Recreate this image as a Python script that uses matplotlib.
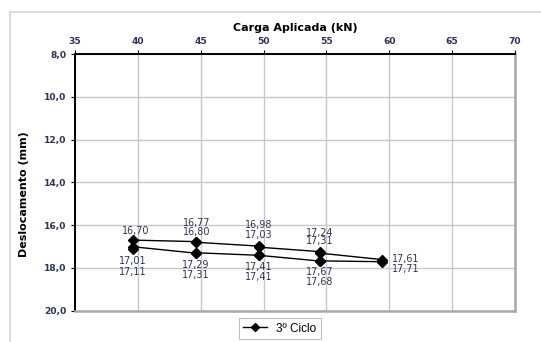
import numpy as np
import matplotlib.pyplot as plt
from matplotlib.lines import Line2D

# 3o ciclo de carga: duas leituras por patamar (carregamento e descarregamento)
carga = [39.6, 44.6, 44.6, 49.6, 49.6, 54.5, 54.5, 59.4, 59.4,
         54.5, 54.5, 49.6, 49.6, 44.6, 44.6, 39.6, 39.6]
desloc = [16.70, 16.77, 16.80, 16.98, 17.03, 17.24, 17.31, 17.61, 17.71,
          17.67, 17.68, 17.41, 17.41, 17.29, 17.31, 17.01, 17.11]

x_ticks = [35, 40, 45, 50, 55, 60, 65, 70]
y_ticks = [8, 10, 12, 14, 16, 18, 20]

# deslocamento dos rotulos em pixels (dx, dy), dy positivo para baixo
off_rot = [(3, -9), (1, -19), (1, -10), (0, -21), (0, -12), (0, -19), (0, -12),
           (10, -1), (10, 7), (0, 11), (0, 21), (0, 12), (0, 22), (0, 12), (0, 22),
           (0, 14), (0, 23)]

cor_txt = '#2e3358'

fig = plt.figure(figsize=(5.41, 3.42), dpi=100)
ax = fig.add_axes([75/541, 1 - 310.7/342, 440/541, (310.7 - 54)/342])

ax.plot(carga, desloc, color='black', lw=1.0, marker='D', ms=4.6,
        markerfacecolor='black', markeredgecolor='black')

for xi, yi, (dx, dy) in zip(carga, desloc, off_rot):
    txt = ('%.2f' % yi).replace('.', ',')
    ha = 'left' if dx >= 10 else 'center'
    ax.annotate(txt, (xi, yi), xytext=(dx, -dy), textcoords='offset pixels',
                ha=ha, va='center', fontsize=6.9, color=cor_txt)

ax.set_xlim(35, 70)
ax.set_ylim(20, 8)
ax.set_xticks(x_ticks)
ax.set_yticks(y_ticks)
ax.set_yticklabels([('%.1f' % v).replace('.', ',') for v in y_ticks])
ax.xaxis.tick_top()
ax.xaxis.set_label_position('top')
ax.tick_params(axis='both', labelsize=6.6, labelcolor=cor_txt, length=3,
               width=0.8, direction='out', pad=3)
for lab in ax.get_xticklabels() + ax.get_yticklabels():
    lab.set_fontweight('bold')

ax.grid(True, color='#c8c8c8', lw=1.0)
ax.set_axisbelow(True)

ax.spines['top'].set_color('black')
ax.spines['left'].set_color('black')
ax.spines['top'].set_linewidth(1.4)
ax.spines['left'].set_linewidth(1.4)
ax.spines['right'].set_color('#a8a8a8')
ax.spines['bottom'].set_color('#a8a8a8')
ax.spines['right'].set_linewidth(1.8)
ax.spines['bottom'].set_linewidth(1.8)

ax.set_xlabel('Carga Aplicada (kN)', fontsize=8, fontweight='bold', labelpad=4)
ax.set_ylabel('Deslocamento (mm)', fontsize=8, fontweight='bold')
ax.yaxis.set_label_coords(-0.104, 0.455)

# moldura externa do grafico
fig.add_artist(Line2D([10/541, 10/541], [0, 1 - 12/342], color='#d4d4d4', lw=1.2))
fig.add_artist(Line2D([10/541, 1], [1 - 12/342, 1 - 12/342], color='#d4d4d4', lw=1.2))

h = Line2D([], [], color='black', lw=1.0, marker='D', ms=4)
leg = fig.legend([h], ['3º Ciclo'], loc='center', bbox_to_anchor=(280/541, 1 - 328.5/342),
                 fancybox=False, edgecolor='#b0b0b0', handlelength=2.0,
                 prop={'family': 'Liberation Sans', 'size': 8.5}, borderpad=0.35)
leg.get_frame().set_linewidth(0.8)

plt.savefig('out.png', dpi=100)
